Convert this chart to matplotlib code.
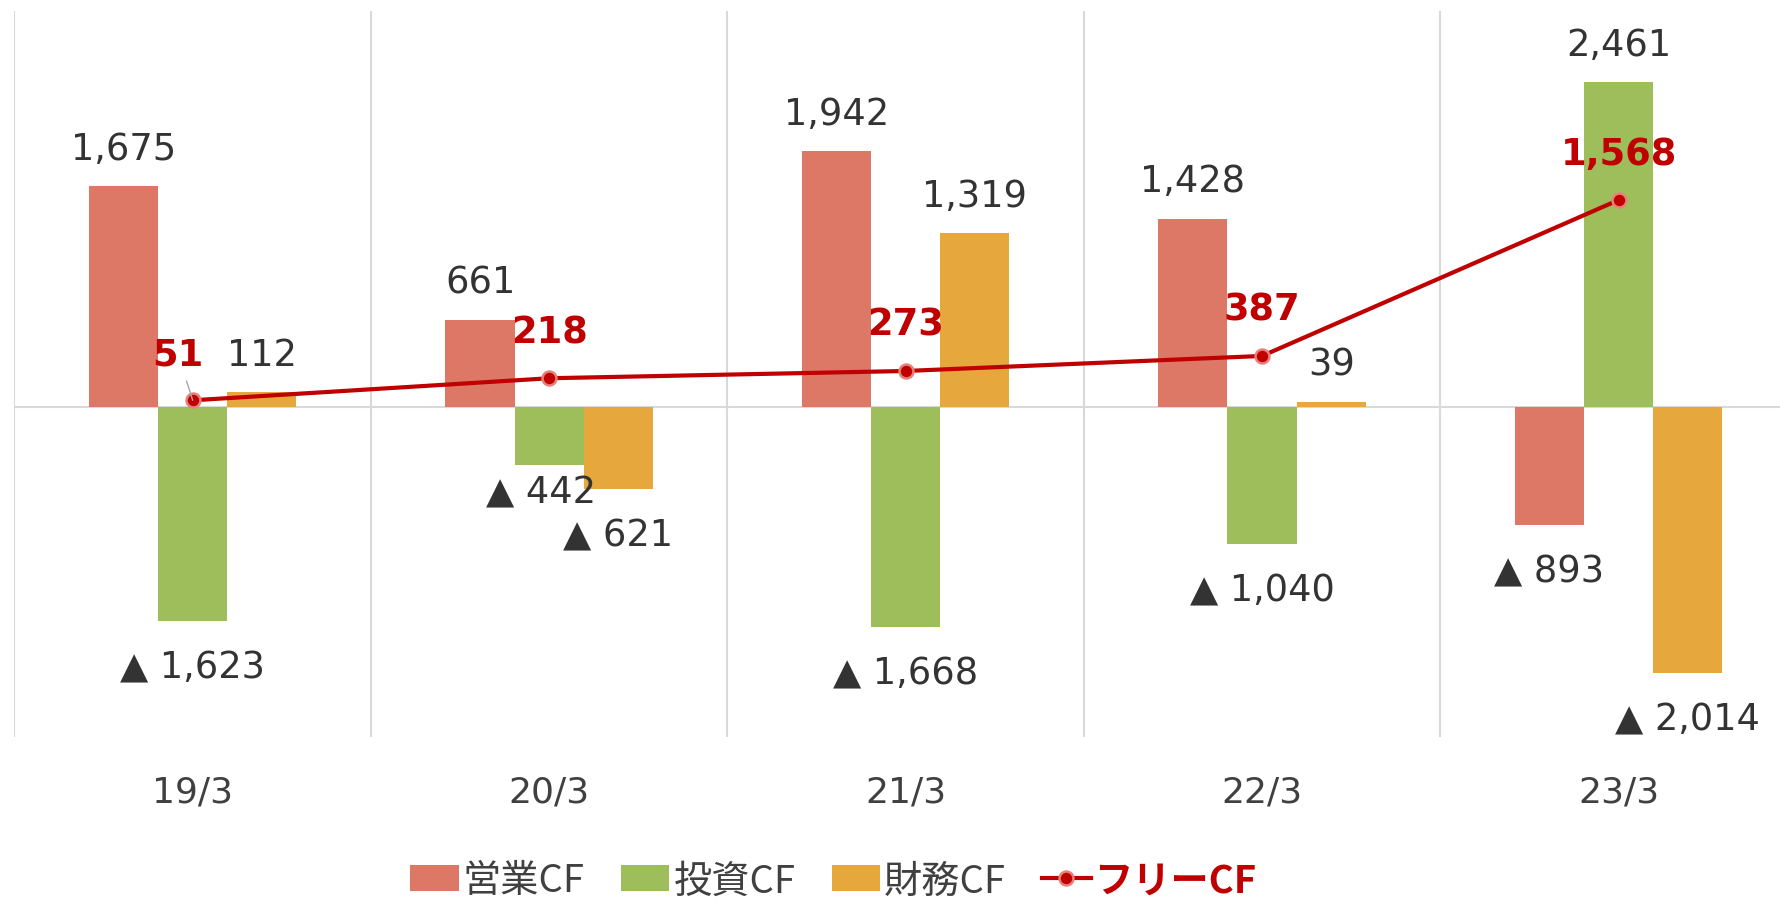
import numpy as np
import matplotlib.pyplot as plt

# キャッシュフロー推移（億円）
periods = ['19/3', '20/3', '21/3', '22/3', '23/3']
operating_cf = [1675, 661, 1942, 1428, -893]
investing_cf = [-1623, -442, -1668, -1040, 2461]
financing_cf = [112, -621, 1319, 39, -2014]
free_cf = [51, 218, 273, 387, 1568]

series_names = ['営業CF', '投資CF', '財務CF']
bar_colors = ['#DD7866', '#9DBE5B', '#E6A73D']
line_color = '#C00000'
text_color = '#333333'
grid_color = '#D9D9D9'

plt.rcParams['font.family'] = ['DejaVu Sans', 'Noto Sans CJK JP']

fig = plt.figure(figsize=(17.81, 9.04), dpi=100)
ax = fig.add_axes([0.00814, 0.1836, 1.0007, 0.8031])

x = np.arange(len(periods))
w = 0.194

# 個別に位置をずらすラベル（系列番号, 期番号）: (dx, dy) [pt]
label_shift = {(1, 1): (-6, -26.5)}

bar_handles = []
for k, (vals, color) in enumerate(zip([operating_cf, investing_cf, financing_cf], bar_colors)):
    bars = ax.bar(x + (k - 1) * w, vals, w, color=color, label=series_names[k], zorder=2)
    bar_handles.append(bars)
    for i, (rect, v) in enumerate(zip(bars, vals)):
        cx = rect.get_x() + rect.get_width() / 2
        if v >= 0:
            txt, off = f'{v:,}', (0, 19.5)
        else:
            txt, off = f'▲ {abs(v):,}', (0, -40.5)
        off = label_shift.get((k, i), off)
        ax.annotate(txt, (cx, v), xytext=off, textcoords='offset points',
                    ha='center', va='baseline', fontsize=26.5, color=text_color, zorder=5)

# フリーCF
line, = ax.plot(x, free_cf, color=line_color, lw=3, marker='o', ms=10,
                mfc=line_color, mec='#E8807A', mew=1.8, zorder=4, label='フリーCF')
for i, v in enumerate(free_cf):
    if i == 0:
        ax.annotate(f'{v:,}', (x[i], v), xytext=(-10.6, 25.5), textcoords='offset points',
                    ha='center', va='baseline', fontsize=26.5, fontweight='bold',
                    color=line_color, zorder=5,
                    arrowprops=dict(arrowstyle='-', color='#A6A6A6', lw=1,
                                    shrinkA=4, shrinkB=0))
    else:
        ax.annotate(f'{v:,}', (x[i], v), xytext=(0, 26), textcoords='offset points',
                    ha='center', va='baseline', fontsize=26.5, fontweight='bold',
                    color=line_color, zorder=5)

ax.axhline(0, color=grid_color, lw=1.5, zorder=1)
ax.set_xlim(-0.5, 4.5)
ax.set_ylim(-2500, 3000)
ax.set_yticks([])
ax.set_xticks(x)
ax.set_xticklabels(periods, fontsize=26, color='#404040')
ax.set_xticks(np.arange(-0.5, 5, 1), minor=True)
ax.grid(which='minor', axis='x', color=grid_color, lw=1.5)
ax.set_axisbelow(True)
ax.tick_params(which='both', length=0, pad=27)
for s in ax.spines.values():
    s.set_visible(False)

leg = fig.legend(handles=bar_handles + [line], labels=series_names + ['フリーCF'],
                 loc='center', bbox_to_anchor=(0.468, 0.025), ncol=4, frameon=False,
                 prop={'family': ['Noto Sans CJK JP'], 'size': 27.5},
                 handlelength=1.27, handleheight=0.68, handletextpad=0.1,
                 columnspacing=0.95)
for t in leg.get_texts():
    t.set_color('#404040')
leg.get_texts()[-1].set_color(line_color)
leg.get_texts()[-1].set_fontweight('bold')

fig.savefig('out.png', dpi=100)
